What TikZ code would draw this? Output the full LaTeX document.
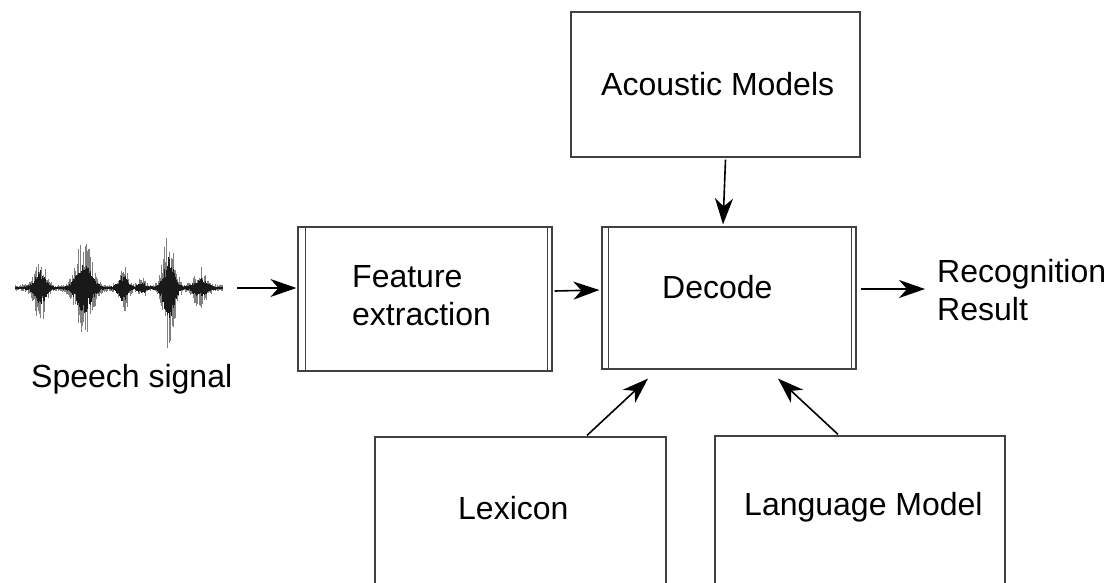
\documentclass[tikz,border=0pt]{standalone}
\usepackage{fontspec}
\setmainfont{Liberation Sans}
\usetikzlibrary{calc,arrows.meta}
\pgfmathdeclarefunction{wenv}{1}{%
  \pgfmathparse{3+34*exp(-min(((#1-40)/7)^2,9))+50*exp(-min(((#1-84)/10)^2,9))+24*exp(-min(((#1-123)/6)^2,9))+8*exp(-min(((#1-142)/5)^2,9))+62*exp(-min(((#1-169)/7)^2,9))+18*exp(-min(((#1-200)/8)^2,9))}}
\tikzset{
  blk/.style={draw=black!75, line width=1.2pt, rectangle, inner sep=0pt},
  lbl/.style={anchor=base west, inner sep=0pt, font=\fontsize{32}{38}\selectfont},
  arr/.style={draw=black, line width=1.6pt, -{Stealth[length=26pt,width=18pt,inset=8pt]}},
}
\begin{document}
\begin{tikzpicture}[x=1pt,y=-1pt]
\useasboundingbox (0,0) rectangle (1116,582);
\clip (0,0) rectangle (1116,582);
\fill[white] (0,0) rectangle (1116,582);

% boxes
\node[blk, minimum width=289pt, minimum height=145pt] (ac) at (715.5,84.5) {};
\node[blk, minimum width=254pt, minimum height=144pt] (fe) at (425,299) {};
\node[blk, minimum width=254pt, minimum height=142pt] (dec) at (729,298) {};
\node[blk, minimum width=291pt, minimum height=170pt] (lex) at (520.5,522) {};
\node[blk, minimum width=290pt, minimum height=172pt] (lm) at (860,522) {};

% double side lines
\draw[black!75, line width=1.2pt] ($(fe.north west)+(8,0)$) -- ($(fe.south west)+(8,0)$);
\draw[black!75, line width=1.2pt] ($(fe.north east)+(-5,0)$) -- ($(fe.south east)+(-5,0)$);
\draw[black!75, line width=1.2pt] ($(dec.north west)+(7,0)$) -- ($(dec.south west)+(7,0)$);
\draw[black!75, line width=1.2pt] ($(dec.north east)+(-5,0)$) -- ($(dec.south east)+(-5,0)$);

% labels
\node[lbl] (acl) at (601,95) {Acoustic Models};
\node[lbl] (fel1) at (352,287) {Feature};
\node[lbl] (fel2) at (352,325) {extraction};
\node[lbl] (decl) at (662,298) {Decode};
\node[lbl] (res1) at (937,282) {Recognition};
\node[lbl] (res2) at (937,320) {Result};
\node[lbl] (sp) at (31,387) {Speech signal};
\node[lbl] (lexl) at (458,519) {Lexicon};
\node[lbl] (lml) at (744,515) {Language Model};

% waveform
\pgfmathsetseed{7}
\foreach \i in {0,...,415} {
  \pgfmathsetmacro{\xx}{15+0.5*\i}
  \pgfmathsetmacro{\ee}{wenv(\xx)}
  \pgfmathsetmacro{\ra}{rnd}
  \pgfmathsetmacro{\rb}{rnd}
  \pgfmathsetmacro{\up}{\ee*\ra^1.3+0.5}
  \pgfmathsetmacro{\dn}{\ee*\rb^1.3+0.5}
  \draw[black!50, line width=0.5pt] (\xx,{288-\up}) -- (\xx,{288+\dn});
}
\foreach \i in {0,...,415} {
  \pgfmathsetmacro{\xx}{15+0.5*\i}
  \pgfmathsetmacro{\ee}{wenv(\xx)}
  \pgfmathsetmacro{\up}{0.5*\ee*(0.35+0.65*rnd)}
  \pgfmathsetmacro{\dn}{0.5*\ee*(0.35+0.65*rnd)}
  \draw[black!90, line width=0.7pt] (\xx,{288-\up}) -- (\xx,{288+\dn});
}
\coordinate (wv) at (237,288);
\coordinate (resin) at (925,289);

% connectors
\draw[arr] (wv) -- ($(fe.west)+(-1,-11)$);
\draw[arr] ($(fe.east)+(2,-8)$) -- ($(dec.west)+(-2,-8)$);
\draw[arr] ($(dec.east)+(4,-9)$) -- (resin);
\draw[arr] ($(ac.south)+(10,2)$) -- ($(dec.north)+(-6,-2)$);
\draw[arr] ($(lex.north)+(66.5,-1)$) -- ($(dec.south)+(-81,9)$);
\draw[arr] ($(lm.north)+(-22,-1)$) -- ($(dec.south)+(49,9)$);
\end{tikzpicture}
\end{document}
